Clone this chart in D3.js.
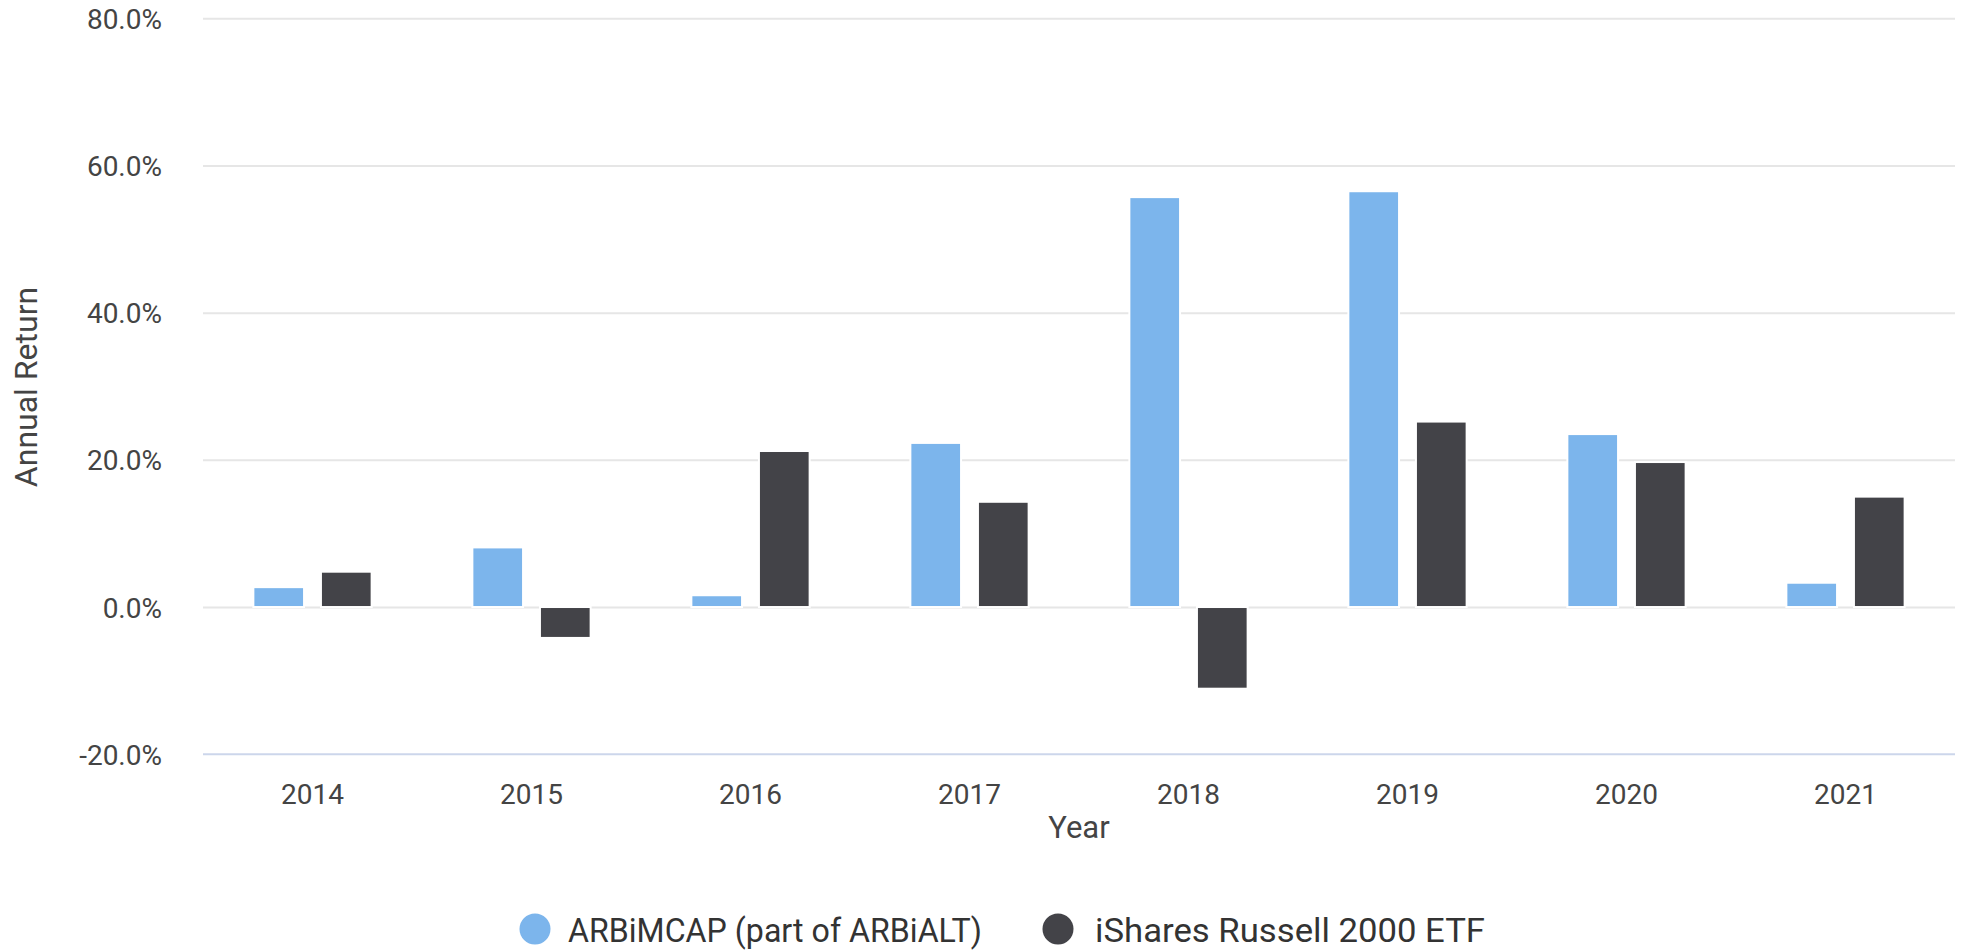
<!DOCTYPE html>
<html>
<head>
<meta charset="utf-8">
<script src="https://cdn.jsdelivr.net/npm/d3@7"></script>
<style>
  html, body { margin: 0; padding: 0; background: #ffffff; }
  svg { display: block; font-family: Roboto, "Noto Sans", sans-serif; }
</style>
</head>
<body>
<svg id="chart" width="1963" height="952"></svg>
<script>
const years = ["2014", "2015", "2016", "2017", "2018", "2019", "2020", "2021"];
const seriesNames = ["ARBiMCAP (part of ARBiALT)", "iShares Russell 2000 ETF"];
const arbimcap = [2.7, 8.1, 1.6, 22.3, 55.7, 56.5, 23.5, 3.3];
const russell = [4.8, -4.2, 21.2, 14.3, -11.1, 25.2, 19.7, 15.0];
const yTicks = [-20, 0, 20, 40, 60, 80];
const colors = ["#7cb5ec", "#434348"];

const svg = d3.select("#chart");
const plotLeft = 203, plotRight = 1955, plotTop = 18.3, plotBottom = 754.2;

const x0 = d3.scaleBand().domain(years).range([plotLeft, plotRight]).paddingInner(0.46).paddingOuter(0.23);
const x1 = d3.scaleBand().domain([0, 1]).range([0, x0.bandwidth()]).paddingInner(0.25);
const y = d3.scaleLinear().domain([-20, 80]).range([plotBottom, plotTop]);

// gridlines
const grid = svg.append("g").attr("transform", `translate(${plotLeft},0)`)
  .call(d3.axisLeft(y).tickValues(yTicks.filter(t => t !== -20)).tickSize(-(plotRight - plotLeft)).tickFormat(""));
grid.select(".domain").remove();
grid.selectAll("line").attr("stroke", "#e6e6e6").attr("stroke-width", 2);

// x axis line
svg.append("line").attr("x1", plotLeft).attr("x2", plotRight).attr("y1", y(-20)).attr("y2", y(-20))
  .attr("stroke", "#ccd6eb").attr("stroke-width", 2);

// bars
const data = years.map((yr, i) => ({ year: yr, vals: [arbimcap[i], russell[i]] }));
const groups = svg.append("g").selectAll("g").data(data).join("g")
  .attr("transform", d => `translate(${x0(d.year)},0)`);
groups.selectAll("rect").data(d => d.vals.map((v, k) => ({ v, k }))).join("rect")
  .attr("x", d => x1(d.k))
  .attr("width", x1.bandwidth())
  .attr("y", d => y(Math.max(0, d.v)))
  .attr("height", d => Math.abs(y(d.v) - y(0)))
  .attr("fill", d => colors[d.k])
  .attr("stroke", "#ffffff")
  .attr("stroke-width", 2);

// y axis labels
const yAxis = svg.append("g").attr("transform", `translate(${plotLeft},0)`)
  .call(d3.axisLeft(y).tickValues(yTicks).tickSize(0).tickPadding(41).tickFormat(d => d.toFixed(1) + "%"));
yAxis.select(".domain").remove();
yAxis.selectAll("text").attr("font-size", 28).attr("fill", "#444444").attr("font-family", "Roboto").attr("dy", "0.36em");

// x axis labels
const xAxis = svg.append("g").attr("transform", `translate(0,${y(-20)})`)
  .call(d3.axisBottom(x0).tickSize(0).tickPadding(30));
xAxis.select(".domain").remove();
xAxis.selectAll("text").attr("font-size", 28).attr("fill", "#444444").attr("font-family", "Roboto");

// axis titles
svg.append("text").attr("transform", "translate(37,387) rotate(-90)")
  .attr("text-anchor", "middle").attr("font-size", 32).attr("fill", "#444444").text("Annual Return");
svg.append("text").attr("x", (plotLeft + plotRight) / 2).attr("y", 838)
  .attr("text-anchor", "middle").attr("font-size", 31).attr("fill", "#444444").text("Year");

// legend
const legendPos = [{ cx: 535, tx: 568, len: 414 }, { cx: 1058, tx: 1095, len: 390 }];
const lg = svg.append("g").selectAll("g").data(seriesNames).join("g");
lg.append("circle").attr("cx", (d, i) => legendPos[i].cx).attr("cy", 929).attr("r", 15.5)
  .attr("fill", (d, i) => colors[i]);
lg.append("text").attr("x", (d, i) => legendPos[i].tx).attr("y", 942)
  .attr("font-size", 33).attr("fill", "#333333")
  .attr("textLength", (d, i) => legendPos[i].len).attr("lengthAdjust", "spacingAndGlyphs")
  .text(d => d);
</script>
</body>
</html>
